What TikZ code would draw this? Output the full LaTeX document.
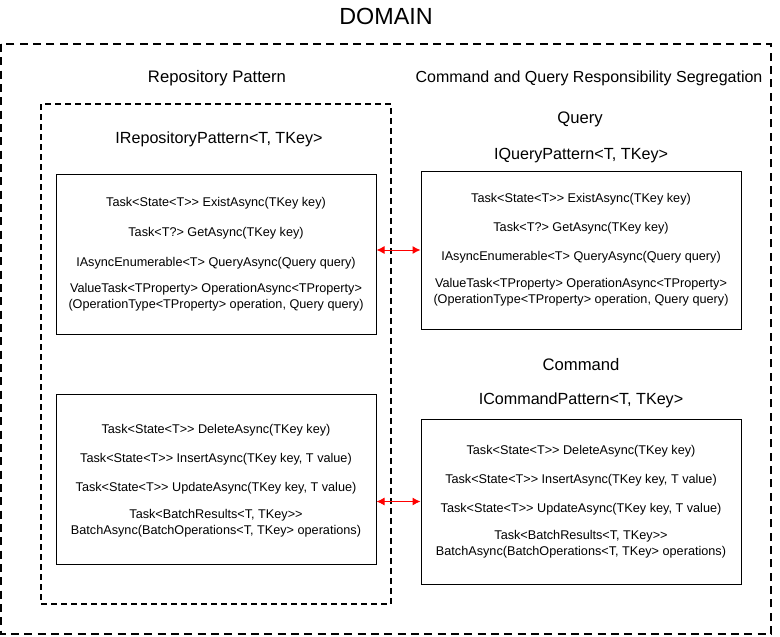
\documentclass[tikz,border=0pt]{standalone}
\usepackage{fontspec}
\setmainfont{Liberation Sans}
\usetikzlibrary{arrows.meta}
\begin{document}
\begin{tikzpicture}[x=0.75pt,y=-0.75pt,
  heading/.style={inner sep=0pt,font=\fontsize{12.5}{14}\selectfont},
  methodbox/.style={draw=black,line width=0.75pt,rectangle,inner sep=0pt,align=center,
     minimum width=240pt,font=\fontsize{9.5}{12}\selectfont},
  link/.style={red,line width=0.75pt,{Latex[length=6pt,width=6pt]}-{Latex[length=6pt,width=6pt]}}]
\useasboundingbox (0,0) rectangle (780,636);
\node[inner sep=0pt,font=\fontsize{17.5}{20}\selectfont] (title) at (386,16) {DOMAIN};
\draw[line width=1.5pt,dash pattern=on 6pt off 4pt] (1,44) rectangle (771,634);
\node[heading] (repo) at (217,78) {Repository Pattern};
\node[heading,font=\fontsize{12}{14}\selectfont] (cqrs) at (589,78) {Command and Query Responsibility Segregation};
\draw[line width=1.1pt,dash pattern=on 4.5pt off 3pt] (41,104) rectangle (391,604);
\node[heading,font=\fontsize{12.1}{14}\selectfont] (irepo) at (219,139) {IRepositoryPattern<T, TKey>};
\node[methodbox,minimum height=120pt] (b1) at (216,254) {Task<State<T>{}> ExistAsync(TKey key)\\[10.5pt]
Task<T?> GetAsync(TKey key)\\[10.5pt]
IAsyncEnumerable<T> QueryAsync(Query query)\\[7.5pt]
ValueTask<TProperty> OperationAsync<TProperty>\\
(OperationType<TProperty> operation, Query query)};
\node[methodbox,minimum height=127.5pt] (b2) at (216,479) {\rule{0pt}{0pt}\\[-3pt]Task<State<T>{}> DeleteAsync(TKey key)\\[9.75pt]
Task<State<T>{}> InsertAsync(TKey key, T value)\\[9.75pt]
Task<State<T>{}> UpdateAsync(TKey key, T value)\\[8.25pt]
Task<BatchResults<T, TKey>{}>\\
BatchAsync(BatchOperations<T, TKey> operations)};
\node[heading] (query) at (580,119) {Query};
\node[heading,font=\fontsize{12.1}{14}\selectfont] (iquery) at (581,156) {IQueryPattern<T, TKey>};
\node[methodbox,minimum height=118.5pt] (bq) at (581,250) {Task<State<T>{}> ExistAsync(TKey key)\\[9.75pt]
Task<T?> GetAsync(TKey key)\\[9.75pt]
IAsyncEnumerable<T> QueryAsync(Query query)\\[8.25pt]
ValueTask<TProperty> OperationAsync<TProperty>\\
(OperationType<TProperty> operation, Query query)};
\node[heading] (command) at (581,365) {Command};
\node[heading,font=\fontsize{12.1}{14}\selectfont] (icommand) at (581,400) {ICommandPattern<T, TKey>};
\node[methodbox,minimum height=123.75pt] (bc) at (581,501.5) {Task<State<T>{}> DeleteAsync(TKey key)\\[9.75pt]
Task<State<T>{}> InsertAsync(TKey key, T value)\\[9.75pt]
Task<State<T>{}> UpdateAsync(TKey key, T value)\\[8.25pt]
Task<BatchResults<T, TKey>{}>\\
BatchAsync(BatchOperations<T, TKey> operations)};
\draw[link] (b1.east |- bq.west) -- (bq.west);
\draw[link] (b2.east |- bc.west) -- (bc.west);
\end{tikzpicture}
\end{document}
